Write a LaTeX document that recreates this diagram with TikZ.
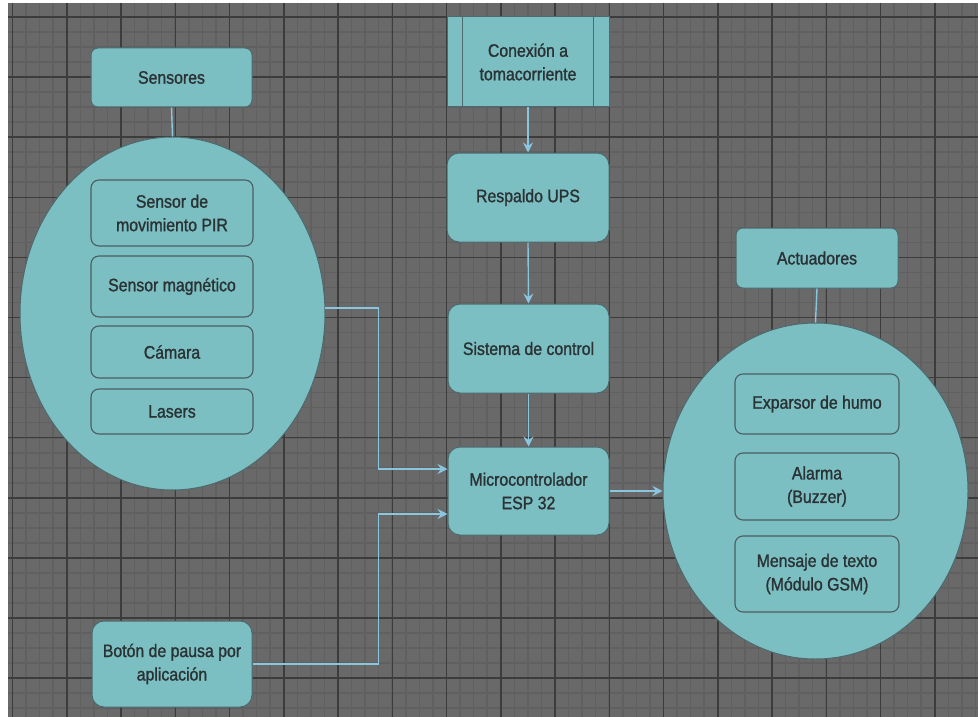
\documentclass[tikz,border=0pt]{standalone}
\usepackage{fontspec}
\setmainfont[FakeStretch=0.88, FakeBold=1.3]{Liberation Sans}
\usetikzlibrary{shapes.geometric,arrows.meta,calc}
\definecolor{bggrey}{HTML}{696969}
\definecolor{minorln}{HTML}{606060}
\definecolor{majorln}{HTML}{3C3C3C}
\definecolor{tealfill}{HTML}{7CBFC3}
\definecolor{tealedge}{HTML}{4E6A6E}
\definecolor{inneredge}{HTML}{4A5E62}
\definecolor{txtcol}{HTML}{2A3234}
\definecolor{linkcol}{HTML}{8AC6DE}
\begin{document}
\begin{tikzpicture}[x=1pt,y=-1pt,
  every node/.style={font=\fontsize{18}{23.5}\selectfont, text=txtcol, align=center, inner sep=0pt},
  bluebox/.style={draw=tealedge, line width=1pt, fill=tealfill, rounded corners=7pt},
  bigbox/.style={draw=tealedge, line width=1pt, fill=tealfill, rounded corners=12pt},
  innerbox/.style={draw=inneredge, line width=1.1pt, fill=tealfill, rounded corners=8pt},
  groupell/.style={ellipse, draw=tealedge, line width=1pt, fill=tealfill},
  link/.style={draw=linkcol, line width=1.4pt},
  arr/.style={link, -{Stealth[length=10pt,width=10pt,inset=3.5pt]}}
]
\useasboundingbox (0,0) rectangle (978,717);
\fill[white] (0,0) rectangle (978,717);
\fill[bggrey] (8,3) rectangle (978,717);
% minor grid
\foreach \i in {0,...,72} {
  \pgfmathsetmacro{\xx}{12.5+\i*13.5625}
  \ifdim\xx pt<978pt \draw[minorln, line width=1.6pt] (\xx,3) -- (\xx,717);\fi
}
\foreach \j in {0,...,47} {
  \pgfmathsetmacro{\yy}{17+\j*15.025}
  \ifdim\yy pt<717pt \draw[minorln, line width=1.6pt] (8,\yy) -- (978,\yy);\fi
}
% major grid
\foreach \i in {0,...,17} {
  \pgfmathsetmacro{\xx}{12.5+\i*54.25}
  \draw[majorln, line width=1.5pt] (\xx,3) -- (\xx,717);
}
\foreach \j in {0,...,11} {
  \pgfmathsetmacro{\yy}{17+\j*60.1}
  \draw[majorln, line width=1.5pt] (8,\yy) -- (978,\yy);
}

% Sensors group
\node[bluebox, minimum width=161pt, minimum height=59pt] (sens) at (171.5,77.5) {Sensores};
\node[groupell, minimum width=305pt, minimum height=353pt] (sensell) at (172.5,313.5) {};
\draw[link] (sens.south) -- (sensell.north);
\node[innerbox, minimum width=162pt, minimum height=66pt] (pir) at (172,213) {Sensor de\\movimiento PIR};
\node[innerbox, minimum width=162pt, minimum height=61pt] (mag) at (172,286.5) {Sensor magnético};
\node[innerbox, minimum width=162pt, minimum height=52pt] (cam) at (172,352) {Cámara};
\node[innerbox, minimum width=162pt, minimum height=45pt] (las) at (172,411.5) {Lasers};

% Power chain
\node[draw=tealedge, line width=1pt, fill=tealfill, minimum width=162pt, minimum height=90pt] (con) at (528,62) {Conexión a\\tomacorriente};
\draw[tealedge, line width=1pt] ($(con.north west)+(16,0)$) -- ($(con.south west)+(16,0)$);
\draw[tealedge, line width=1pt] ($(con.north east)+(-16,0)$) -- ($(con.south east)+(-16,0)$);
\node[bigbox, minimum width=162pt, minimum height=89pt] (ups) at (528,197.5) {Respaldo UPS};
\node[bigbox, minimum width=161pt, minimum height=89pt] (ctrl) at (528.5,348.5) {Sistema de control};
\node[bigbox, minimum width=161pt, minimum height=88pt] (micro) at (528.5,491) {Microcontrolador\\ESP 32};
\draw[arr] (con.south) -- (ups.north);
\draw[arr] (ups.south) -- (ctrl.north);
\draw[arr] (ctrl.south) -- (micro.north);

% Pause button
\node[bigbox, minimum width=160pt, minimum height=86pt] (boton) at (172,664) {Botón de pausa por\\aplicación};

% Connectors into micro
\coordinate (jx) at (378.5,0);
\coordinate (inA) at ($(micro.west)+(0,-22)$);
\coordinate (inB) at ($(micro.west)+(0,23)$);
\draw[arr] (sensell.2.5) -- (sensell.2.5 -| jx) |- (inA);
\draw[arr] (boton.east) -- (boton.east -| jx) |- (inB);

% Actuators group
\node[bluebox, minimum width=162pt, minimum height=60pt] (act) at (817,258) {Actuadores};
\node[groupell, minimum width=305pt, minimum height=336pt] (actell) at (815.5,491) {};
\draw[link] (act.south) -- (actell.north);
\node[innerbox, minimum width=164pt, minimum height=60pt] (humo) at (817,404) {Exparsor de humo};
\node[innerbox, minimum width=164pt, minimum height=67pt] (alarma) at (817,486.5) {Alarma\\(Buzzer)};
\node[innerbox, minimum width=164pt, minimum height=76pt] (gsm) at (817,574) {Mensaje de texto\\(Módulo GSM)};

\draw[arr] (micro.east) -- (actell.west);
\end{tikzpicture}
\end{document}
